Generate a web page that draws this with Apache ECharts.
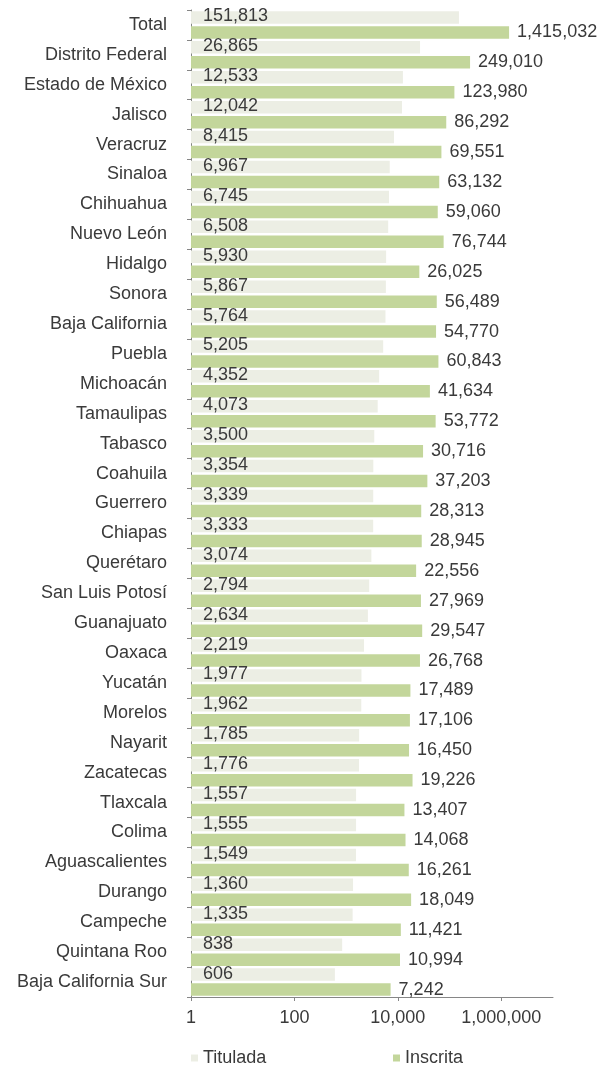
<!DOCTYPE html>
<html>
<head>
<meta charset="utf-8">
<script src="https://cdn.jsdelivr.net/npm/echarts@6/dist/echarts.min.js"></script>
<style>html,body{margin:0;padding:0;background:#fff;}#c{width:612px;height:1068px;}</style>
</head>
<body>
<div id="c"></div>
<script>
const categories = ['Total','Distrito Federal','Estado de México','Jalisco','Veracruz','Sinaloa','Chihuahua','Nuevo León','Hidalgo','Sonora','Baja California','Puebla','Michoacán','Tamaulipas','Tabasco','Coahuila','Guerrero','Chiapas','Querétaro','San Luis Potosí','Guanajuato','Oaxaca','Yucatán','Morelos','Nayarit','Zacatecas','Tlaxcala','Colima','Aguascalientes','Durango','Campeche','Quintana Roo','Baja California Sur'];
const titulada = [151813,26865,12533,12042,8415,6967,6745,6508,5930,5867,5764,5205,4352,4073,3500,3354,3339,3333,3074,2794,2634,2219,1977,1962,1785,1776,1557,1555,1549,1360,1335,838,606];
const inscrita = [1415032,249010,123980,86292,69551,63132,59060,76744,26025,56489,54770,60843,41634,53772,30716,37203,28313,28945,22556,27969,29547,26768,17489,17106,16450,19226,13407,14068,16261,18049,11421,10994,7242];
const seriesNames = ['Titulada','Inscrita'];

const FONT = 'Liberation Sans';
const TXT = '#3a3a3a';
const fmt = v => Number(v).toLocaleString('en-US');

const chart = echarts.init(document.getElementById('c'));
chart.setOption({
  animation: false,
  backgroundColor: '#fff',
  textStyle: { fontFamily: FONT },
  grid: { left: 191, right: 59, top: 10, bottom: 71, containLabel: false },
  legend: [
    { data: [seriesNames[0]], left: 186, top: 1044, itemWidth: 7, itemHeight: 7, icon: 'rect',
      textStyle: { fontFamily: FONT, fontSize: 18, color: TXT } },
    { data: [seriesNames[1]], left: 388, top: 1044, itemWidth: 7, itemHeight: 7, icon: 'rect',
      textStyle: { fontFamily: FONT, fontSize: 18, color: TXT } }
  ],
  xAxis: {
    type: 'log', logBase: 10, min: 1, max: 10000000, interval: 2,
    axisLine: { show: true, lineStyle: { color: '#868686', width: 1 } },
    axisTick: { show: true, length: 4, lineStyle: { color: '#868686' } },
    splitLine: { show: false },
    axisLabel: { fontFamily: FONT, fontSize: 18, color: TXT, margin: 12, showMaxLabel: false,
      formatter: v => (v > 1000000 ? '' : fmt(v)) }
  },
  yAxis: {
    type: 'category', data: categories, inverse: true,
    axisLine: { show: true, lineStyle: { color: '#868686', width: 1 } },
    axisTick: { show: true, length: 4, lineStyle: { color: '#868686' } },
    axisLabel: { fontFamily: FONT, fontSize: 18, color: TXT, margin: 24 }
  },
  series: [
    { name: seriesNames[0], type: 'bar', data: titulada, barWidth: 12.5, barGap: '20%',
      itemStyle: { color: '#eceee4' },
      label: { show: true, position: 'insideLeft', distance: 12, fontFamily: FONT, fontSize: 18, color: TXT,
        formatter: p => fmt(p.value), offset: [0, -1] } },
    { name: seriesNames[1], type: 'bar', data: inscrita, barWidth: 12.5,
      itemStyle: { color: '#c3d69b' },
      label: { show: true, position: 'right', distance: 8, fontFamily: FONT, fontSize: 18, color: TXT,
        formatter: p => fmt(p.value) } }
  ]
});
</script>
</body>
</html>
